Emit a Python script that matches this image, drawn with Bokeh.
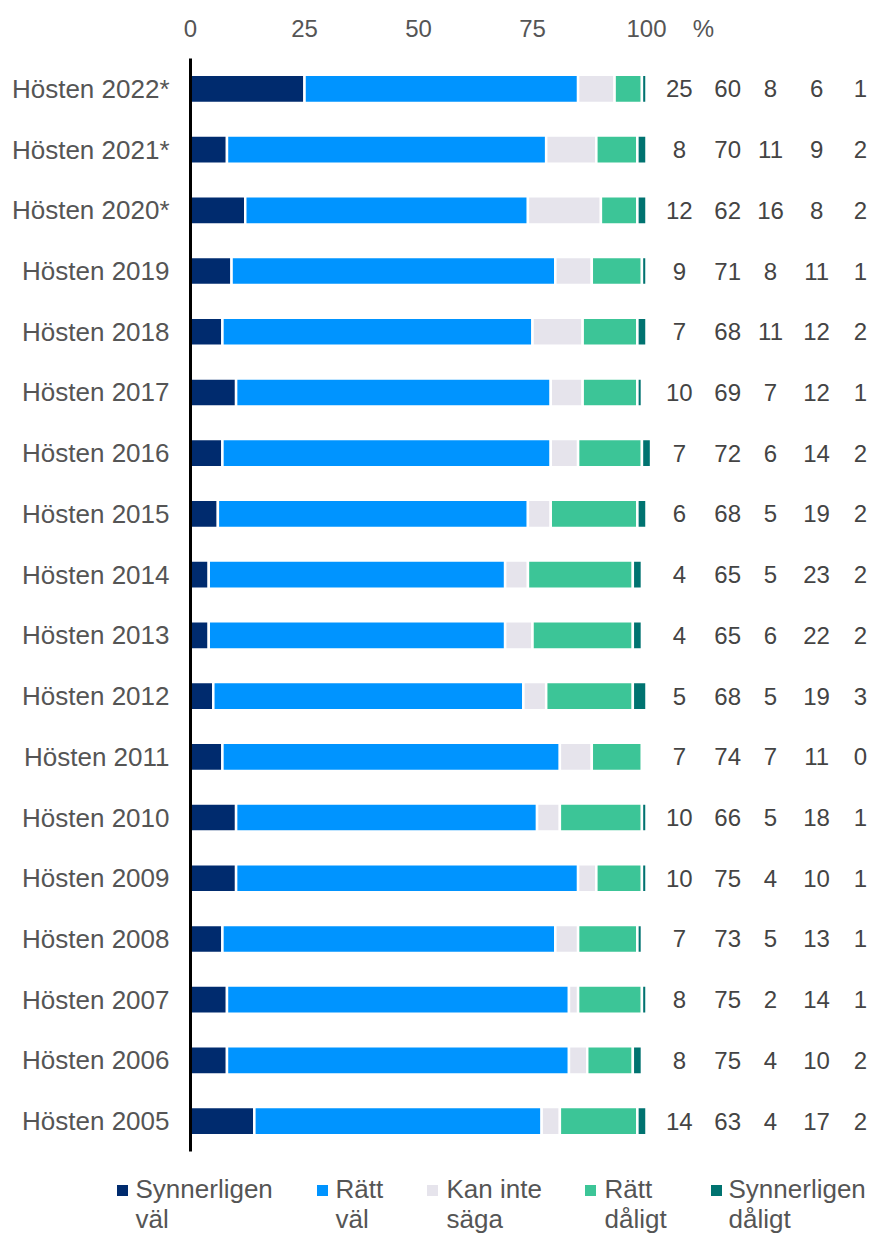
from bokeh.plotting import figure
from bokeh.models import ColumnDataSource, FactorRange, Range1d, FixedTicker
from bokeh.core.properties import value
from bokeh.embed import file_html
from bokeh.resources import INLINE

categories = ["Hösten 2022*", "Hösten 2021*", "Hösten 2020*", "Hösten 2019", "Hösten 2018",
              "Hösten 2017", "Hösten 2016", "Hösten 2015", "Hösten 2014", "Hösten 2013",
              "Hösten 2012", "Hösten 2011", "Hösten 2010", "Hösten 2009", "Hösten 2008",
              "Hösten 2007", "Hösten 2006", "Hösten 2005"]
series_names = ["Synnerligen väl", "Rätt väl", "Kan inte säga", "Rätt dåligt", "Synnerligen dåligt"]
synnerligen_val = [25, 8, 12, 9, 7, 10, 7, 6, 4, 4, 5, 7, 10, 10, 7, 8, 8, 14]
ratt_val = [60, 70, 62, 71, 68, 69, 72, 68, 65, 65, 68, 74, 66, 75, 73, 75, 75, 63]
kan_inte_saga = [8, 11, 16, 8, 11, 7, 6, 5, 5, 6, 5, 7, 5, 4, 5, 2, 4, 4]
ratt_daligt = [6, 9, 8, 11, 12, 12, 14, 19, 23, 22, 19, 11, 18, 10, 13, 14, 10, 17]
synnerligen_daligt = [1, 2, 2, 1, 2, 1, 2, 2, 2, 2, 3, 0, 1, 1, 1, 1, 2, 2]
x_ticks = [0, 25, 50, 75, 100]
unit_label = "%"

colors = ["#002B6E", "#0094FF", "#E6E4EC", "#3CC597", "#007370"]
keys = ["s0", "s1", "s2", "s3", "s4"]
series = [synnerligen_val, ratt_val, kan_inte_saga, ratt_daligt, synnerligen_daligt]

FONT = "Liberation Sans"
TXT = "#555555"
W, H = 870, 1234
MAIN_H = 1158
PX_PER_UNIT = 4.56

data = {"cat": categories}
for k, s in zip(keys, series):
    data[k] = s
    data[k + "_txt"] = [str(v) for v in s]
source = ColumnDataSource(data)

p = figure(width=W, height=MAIN_H, y_range=FactorRange(factors=categories[::-1], range_padding=0),
           x_range=Range1d(0, (W - 190) / PX_PER_UNIT), x_axis_location="above",
           output_backend="svg", toolbar_location=None,
           min_border_left=190, min_border_right=0, min_border_top=58, min_border_bottom=7)
p.outline_line_color = None
p.grid.visible = False
p.background_fill_color = "white"
p.border_fill_color = "white"

p.hbar_stack(keys, y="cat", height=0.464, fill_color=colors, line_color="white",
             line_width=2.5, source=source)

# value columns to the right of the bars
col_x = [107.2, 117.8, 127.2, 137.3, 146.9]
for k, cx in zip(keys, col_x):
    p.text(x=cx, y="cat", text=k + "_txt", source=source, text_align="center",
           text_baseline="middle", text_font=value(FONT), text_font_size="24px",
           text_color="#444444")

pct_pos = 112.5
xa = p.xaxis[0]
xa.ticker = FixedTicker(ticks=x_ticks + [pct_pos])
xa.major_label_overrides = {pct_pos: unit_label}
xa.axis_line_color = None
xa.major_tick_line_color = None
xa.minor_tick_line_color = None
xa.major_tick_out = 0
xa.major_tick_in = 0
xa.major_label_text_font = FONT
xa.major_label_text_font_size = "24px"
xa.major_label_text_color = TXT
xa.major_label_standoff = 17

ya = p.yaxis[0]
ya.axis_line_color = "black"
ya.axis_line_width = 3
ya.major_tick_line_color = None
ya.minor_tick_line_color = None
ya.major_tick_out = 0
ya.major_tick_in = 0
ya.major_label_text_font = FONT
ya.major_label_text_font_size = "26px"
ya.major_label_text_color = TXT
ya.major_label_standoff = 21

# legend drawn in its own strip below the chart (coordinates = pixels in the strip)
LEG_H = H - MAIN_H
leg = figure(width=W, height=LEG_H, x_range=Range1d(0, W), y_range=Range1d(LEG_H, 0),
             output_backend="svg", toolbar_location=None, min_border=0)
leg.outline_line_color = None
leg.grid.visible = False
leg.axis.visible = False
leg.background_fill_color = "white"
leg.border_fill_color = "white"

sq_x = [122, 322, 432, 590, 716]
tx_x = [135, 335, 446, 604, 728]
leg_src = ColumnDataSource(dict(
    sx=sq_x, tx=tx_x, c=colors,
    l1=[n.rsplit(" ", 1)[0] for n in series_names],
    l2=[n.rsplit(" ", 1)[1] for n in series_names],
    ys=[32] * 5, y1=[30.5] * 5, y2=[60.5] * 5))
leg.scatter(x="sx", y="ys", marker="square", size=11, fill_color="c", line_color=None,
            source=leg_src)
for col, yc in (("l1", "y1"), ("l2", "y2")):
    leg.text(x="tx", y=yc, text=col, source=leg_src, text_baseline="middle",
             text_font=value(FONT), text_font_size="26px", text_color=TXT)

open("out.html", "w").write(file_html([p, leg], INLINE))
